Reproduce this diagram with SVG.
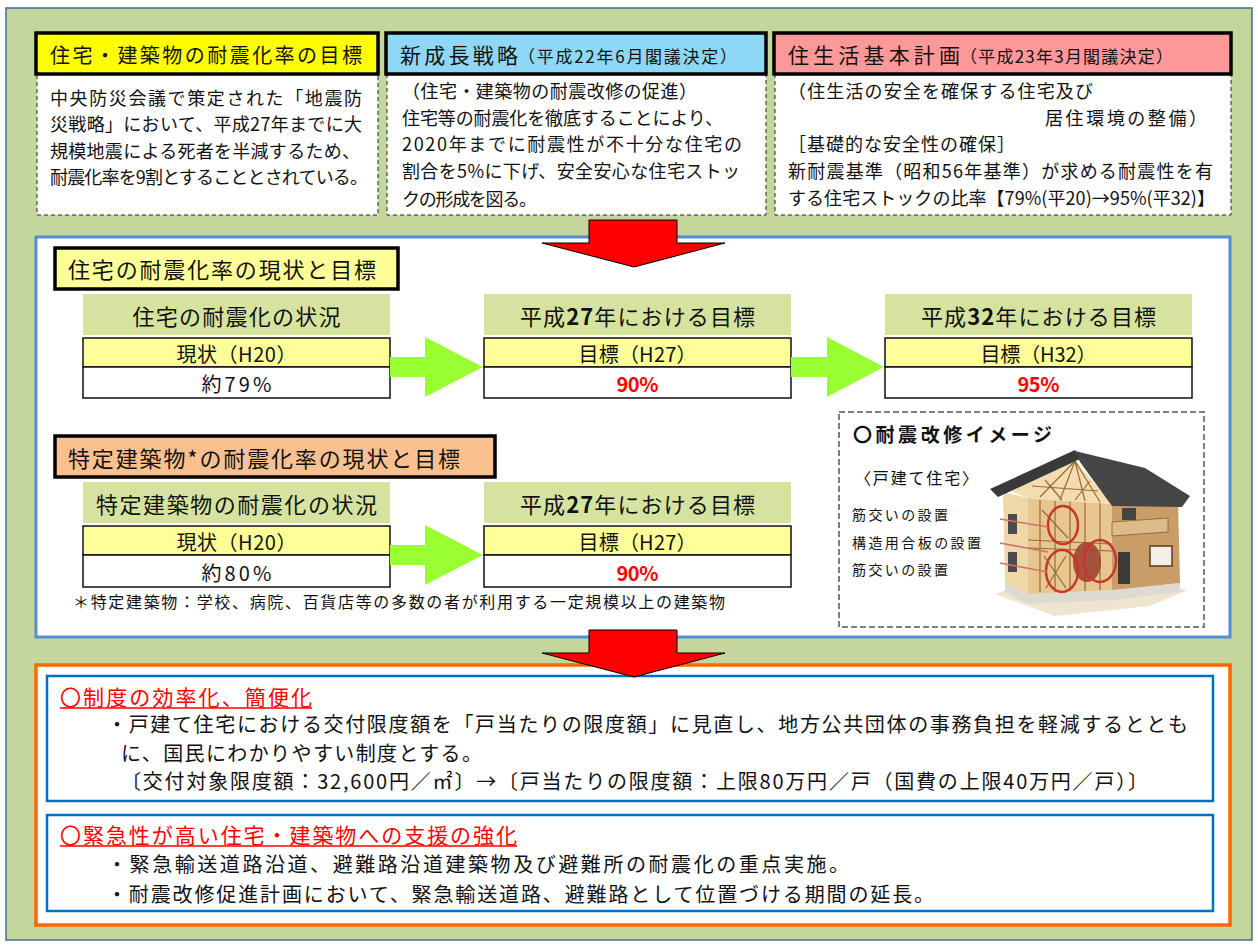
<svg xmlns="http://www.w3.org/2000/svg" width="1258" height="945" viewBox="0 0 1258 945">
  <style>
    text { font-family: "Noto Sans CJK JP", "Noto Sans CJK SC", sans-serif; fill: #111; dominant-baseline: central; }
    .hdr { stroke: #000; stroke-width: 3.5; }
    .body { fill: #fff; stroke: #222; stroke-width: 1; stroke-dasharray: 4 3; }
    .title { stroke: #000; stroke-width: 3.5; }
    .colhead { fill: #D5E39F; }
    .rowy { fill: #FFFF99; stroke: #111; stroke-width: 1.5; }
    .roww { fill: #fff; stroke: #111; stroke-width: 1.5; }
    .garrow { fill: #99FF33; }
    .rarrow { fill: #FF0000; stroke: #000; stroke-width: 1; }
    .red { fill: #FF0000; }
    .mid { text-anchor: middle; }
    .ul { stroke: #FF0000; stroke-width: 1.6; }
    .inner { fill: #fff; stroke: #0070C0; stroke-width: 2.5; }
    .frame { stroke: #9a6a35; stroke-width: 1.2; fill: none; }
    .ring { fill: none; stroke: #c8372d; stroke-width: 2.5; }
    .lead { stroke: #d2706a; stroke-width: 1.5; }
  </style>

  <!-- background panel -->
  <rect x="0" y="0" width="1258" height="945" fill="#fff"/>
  <rect x="6" y="8" width="1246" height="932" fill="#C3D69B" stroke="#4A6B8C" stroke-width="1.5"/>

  <!-- top: three policy boxes -->
  <g id="goal-box">
    <rect x="37" y="74" width="341" height="141" class="body"/>
    <rect x="36" y="33" width="342" height="41" fill="#FFFF00" class="hdr"/>
    <text x="50" y="54" font-size="20" textLength="312">住宅・建築物の耐震化率の目標</text>
    <text x="50" y="97" font-size="18" textLength="312">中央防災会議で策定された「地震防</text>
    <text x="50" y="123" font-size="18" textLength="312">災戦略」において、平成27年までに大</text>
    <text x="50" y="150" font-size="18" textLength="310">規模地震による死者を半減するため、</text>
    <text x="50" y="176" font-size="18" textLength="318">耐震化率を9割とすることとされている。</text>
  </g>

  <g id="growth-strategy-box">
    <rect x="387" y="74" width="379" height="141" class="body"/>
    <rect x="386" y="33" width="380" height="41" fill="#8FD8F5" class="hdr"/>
    <text x="400" y="54" font-size="21" textLength="118">新成長戦略</text>
    <text x="518" y="55" font-size="17" textLength="219">（平成22年6月閣議決定）</text>
    <text x="402" y="90" font-size="18" textLength="295">（住宅・建築物の耐震改修の促進）</text>
    <text x="402" y="117" font-size="18" textLength="321">住宅等の耐震化を徹底することにより、</text>
    <text x="402" y="143" font-size="18" textLength="340">2020年までに耐震性が不十分な住宅の</text>
    <text x="402" y="170" font-size="18" textLength="338">割合を5%に下げ、安全安心な住宅ストッ</text>
    <text x="402" y="198" font-size="18" textLength="135">クの形成を図る。</text>
  </g>

  <g id="housing-plan-box">
    <rect x="775" y="74" width="456" height="141" class="body"/>
    <rect x="774" y="33" width="457" height="41" fill="#FF9999" class="hdr"/>
    <text x="788" y="54" font-size="21" textLength="172">住生活基本計画</text>
    <text x="960" y="55" font-size="17" textLength="213">（平成23年3月閣議決定）</text>
    <text x="788" y="90" font-size="18" textLength="305">（住生活の安全を確保する住宅及び</text>
    <text x="1045" y="117" font-size="18" textLength="162">居住環境の整備）</text>
    <text x="788" y="143" font-size="18" textLength="227">［基礎的な安全性の確保］</text>
    <text x="788" y="170" font-size="18" textLength="425">新耐震基準（昭和56年基準）が求める耐震性を有</text>
    <text x="788" y="197" font-size="18" textLength="427">する住宅ストックの比率【79%(平20)→95%(平32)】</text>
  </g>

  <!-- middle: current status and targets -->
  <g id="status-panel">
    <rect x="36" y="237" width="1194" height="400" fill="#fff" stroke="#558ED5" stroke-width="3"/>
  </g>

  <g id="housing-title">
    <rect x="55" y="248" width="343" height="41" fill="#FFFF99" class="title"/>
    <text x="68" y="268" font-size="22" textLength="308">住宅の耐震化率の現状と目標</text>
  </g>

  <g id="housing-h20">
    <rect x="83" y="294" width="307" height="41" class="colhead"/>
    <text x="236.5" y="315" font-size="22" class="mid" textLength="208">住宅の耐震化の状況</text>
    <rect x="83" y="338" width="307" height="29" class="rowy"/>
    <text x="236.5" y="353" font-size="20" class="mid" textLength="120">現状（H20）</text>
    <rect x="83" y="367" width="307" height="31" class="roww"/>
    <text x="236.5" y="383" font-size="20" class="mid" textLength="70">約79%</text>
  </g>

  <g id="housing-h27">
    <rect x="484" y="294" width="307" height="41" class="colhead"/>
    <text x="637.5" y="315" font-size="22" class="mid" textLength="235">平成<tspan font-weight="700">27</tspan>年における目標</text>
    <rect x="484" y="338" width="307" height="29" class="rowy"/>
    <text x="637.5" y="353" font-size="20" class="mid" textLength="118">目標（H27）</text>
    <rect x="484" y="367" width="307" height="31" class="roww"/>
    <text x="637.5" y="383" font-size="20" font-weight="700" class="mid red" textLength="42">90%</text>
  </g>

  <g id="housing-h32">
    <rect x="885" y="294" width="307" height="41" class="colhead"/>
    <text x="1038.5" y="315" font-size="22" class="mid" textLength="235">平成<tspan font-weight="700">32</tspan>年における目標</text>
    <rect x="885" y="338" width="307" height="29" class="rowy"/>
    <text x="1038.5" y="353" font-size="20" class="mid" textLength="116">目標（H32）</text>
    <rect x="885" y="367" width="307" height="31" class="roww"/>
    <text x="1038.5" y="383" font-size="20" font-weight="700" class="mid red" textLength="42">95%</text>
  </g>

  <g id="building-title">
    <rect x="55" y="436" width="440" height="41" fill="#FAC090" class="title"/>
    <text x="68" y="457" font-size="22" textLength="392">特定建築物*の耐震化率の現状と目標</text>
  </g>

  <g id="building-h20">
    <rect x="83" y="482" width="307" height="41" class="colhead"/>
    <text x="236.5" y="503" font-size="22" class="mid" textLength="281">特定建築物の耐震化の状況</text>
    <rect x="83" y="526" width="307" height="29" class="rowy"/>
    <text x="236.5" y="541" font-size="20" class="mid" textLength="120">現状（H20）</text>
    <rect x="83" y="555" width="307" height="32" class="roww"/>
    <text x="236.5" y="572" font-size="20" class="mid" textLength="70">約80%</text>
  </g>

  <g id="building-h27">
    <rect x="484" y="482" width="307" height="41" class="colhead"/>
    <text x="637.5" y="503" font-size="22" class="mid" textLength="235">平成<tspan font-weight="700">27</tspan>年における目標</text>
    <rect x="484" y="526" width="307" height="29" class="rowy"/>
    <text x="637.5" y="541" font-size="20" class="mid" textLength="118">目標（H27）</text>
    <rect x="484" y="555" width="307" height="32" class="roww"/>
    <text x="637.5" y="572" font-size="20" font-weight="700" class="mid red" textLength="42">90%</text>
  </g>

  <g id="footnote">
    <text x="73" y="601" font-size="16" textLength="652">＊特定建築物：学校、病院、百貨店等の多数の者が利用する一定規模以上の建築物</text>
  </g>

  <!-- retrofit illustration -->
  <g id="retrofit-image">
    <rect x="839" y="412" width="365" height="215" fill="none" stroke="#7F7F7F" stroke-width="2" stroke-dasharray="6 3"/>
    <text x="853" y="433" font-size="19" font-weight="700" textLength="199">〇耐震改修イメージ</text>
    <text x="855" y="477" font-size="16" textLength="123">〈戸建て住宅〉</text>
    <text x="852" y="514" font-size="14" textLength="96">筋交いの設置</text>
    <text x="852" y="542" font-size="14" textLength="129">構造用合板の設置</text>
    <text x="852" y="569" font-size="14" textLength="96">筋交いの設置</text>

    <g id="house">
      <!-- ground and foundation -->
      <polygon points="995,594 1055,616 1150,606 1188,590 1140,580 1030,582" fill="#efe4d0"/>
      <polygon points="1005,582 1028,594 1112,590 1180,583 1180,592 1112,600 1028,604 1005,592" fill="#dedad2"/>
      <!-- side wall -->
      <polygon points="1003,492 1028,498 1028,594 1005,582" fill="#efd7a8"/>
      <rect x="1008" y="514" width="9" height="20" fill="#4b4b4b"/>
      <rect x="1008" y="552" width="9" height="20" fill="#4b4b4b"/>
      <!-- cut-away front frame -->
      <polygon points="1028,498 1112,504 1112,590 1028,594" fill="#e8c690"/>
      <polygon points="1008,490 1075,460 1112,504 1028,498" fill="#f3ddb0"/>
      <path class="frame" d="M1075,461 L1040,497 M1075,461 L1060,500 M1075,461 L1085,501 M1075,461 L1100,502 M1032,486 L1098,491 M1045,480 L1062,500 M1090,481 L1075,500"/>
      <path class="frame" d="M1040,500 V592 M1055,501 V592 M1070,502 V591 M1085,503 V591 M1100,503 V590 M1028,540 L1112,544 M1028,548 L1112,551 M1042,510 L1068,538 M1044,556 L1066,588 M1066,556 L1046,588"/>
      <!-- right wing -->
      <polygon points="1112,504 1178,500 1180,583 1112,590" fill="#c99d68"/>
      <polygon points="1112,522 1168,518 1168,532 1112,536" fill="#dcbc8a" stroke="#8a5c2c" stroke-width="0.8"/>
      <rect x="1122" y="508" width="14" height="12" fill="#444"/>
      <rect x="1150" y="546" width="22" height="20" fill="#f2efe6" stroke="#5a3c20" stroke-width="1.5"/>
      <rect x="1118" y="552" width="12" height="32" fill="#3f3a35"/>
      <!-- roof -->
      <polygon points="1075,451 1145,468 1190,496 1182,507 1112,506 1080,462" fill="#454545"/>
      <polygon points="990,489 1075,450 1080,459 998,497" fill="#3a3a3a"/>
      <!-- highlighted retrofit points -->
      <ellipse cx="1087" cy="562" rx="14" ry="20" fill="#9b3d2c" opacity="0.85"/>
      <ellipse cx="1063" cy="525" rx="15" ry="19" class="ring"/>
      <ellipse cx="1062" cy="571" rx="16" ry="21" class="ring"/>
      <ellipse cx="1100" cy="561" rx="16" ry="21" class="ring"/>
      <line x1="1000" y1="519" x2="1048" y2="527" class="lead"/>
      <line x1="1000" y1="543" x2="1048" y2="552" class="lead"/>
      <line x1="1000" y1="563" x2="1047" y2="572" class="lead"/>
    </g>
  </g>

  <!-- bottom: measures -->
  <g id="measures-panel">
    <rect x="36" y="665" width="1194" height="260" fill="#fff" stroke="#FF6600" stroke-width="3.5"/>
  </g>

  <g id="measure-simplify">
    <rect x="47" y="676" width="1166" height="125" class="inner"/>
    <text x="60" y="696" font-size="21" class="red" textLength="252">〇制度の効率化、簡便化</text>
    <line x1="60" y1="708" x2="312" y2="708" class="ul"/>
    <text x="107" y="723" font-size="20" textLength="1081">・戸建て住宅における交付限度額を「戸当たりの限度額」に見直し、地方公共団体の事務負担を軽減するととも</text>
    <text x="121" y="752" font-size="20" textLength="361">に、国民にわかりやすい制度とする。</text>
    <text x="121" y="780" font-size="20" textLength="1027">〔交付対象限度額：32,600円／㎡〕→〔戸当たりの限度額：上限80万円／戸（国費の上限40万円／戸）〕</text>
  </g>

  <g id="measure-priority">
    <rect x="47" y="815" width="1166" height="96" class="inner"/>
    <text x="60" y="834" font-size="21" class="red" textLength="457">〇緊急性が高い住宅・建築物への支援の強化</text>
    <line x1="60" y1="846" x2="517" y2="846" class="ul"/>
    <text x="107" y="863" font-size="20" textLength="742">・緊急輸送道路沿道、避難路沿道建築物及び避難所の耐震化の重点実施。</text>
    <text x="107" y="893" font-size="20" textLength="827">・耐震改修促進計画において、緊急輸送道路、避難路として位置づける期間の延長。</text>
  </g>

  <!-- flow arrows -->
  <g id="connectors">
    <polygon class="rarrow" points="589,220 677,220 677,243 725,243 634,267 542,243 589,243"/>
    <polygon class="garrow" points="390,357 425,357 425,337 483,367 425,397 425,377 390,377"/>
    <polygon class="garrow" points="791,357 827,357 827,337 884,367 827,397 827,377 791,377"/>
    <polygon class="garrow" points="390,545 425,545 425,525 483,555 425,585 425,565 390,565"/>
    <polygon class="rarrow" points="589,630 677,630 677,653 725,653 634,677 542,653 589,653"/>
  </g>
</svg>
